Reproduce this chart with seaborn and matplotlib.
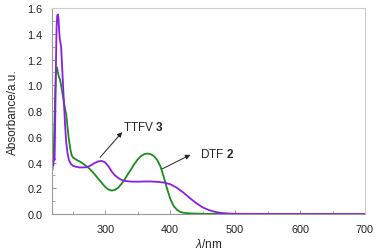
import pandas as pd
import seaborn as sns
import matplotlib.pyplot as plt
from matplotlib.ticker import MultipleLocator, FormatStrFormatter

# absorption spectra
wl_ttfv = [218, 219, 220, 221, 222, 223, 224, 225, 226, 227, 228, 229, 230, 231, 232,
           233, 234, 235, 236, 237, 238, 239, 240, 242, 244, 247, 250, 255, 260, 265,
           270, 275, 280, 285, 290, 295, 300, 305, 310, 315, 320, 325, 330, 340, 350,
           360, 370, 380, 390, 400, 410, 420, 430, 440, 450, 460, 470, 480, 490, 500,
           550, 600, 650, 700]
abs_ttfv = [0.36, 0.43, 0.38, 0.44, 0.42, 0.75, 1.15, 1.45, 1.54, 1.55, 1.52, 1.42, 1.36, 1.33, 1.30,
            1.20, 1.10, 1.00, 0.90, 0.80, 0.70, 0.62, 0.55, 0.47, 0.42, 0.39, 0.375, 0.367, 0.362, 0.362,
            0.363, 0.37, 0.385, 0.40, 0.41, 0.412, 0.40, 0.37, 0.33, 0.30, 0.28, 0.265, 0.257, 0.252, 0.251,
            0.253, 0.253, 0.25, 0.245, 0.232, 0.205, 0.168, 0.125, 0.085, 0.052, 0.03, 0.016, 0.008, 0.004, 0.002,
            0.001, 0.001, 0.0, 0.0]

wl_dtf = [218, 219, 220, 221, 222, 223, 224, 225, 226, 227, 228, 229, 230, 232, 234,
          236, 238, 240, 242, 244, 246, 248, 250, 253, 256, 260, 265, 270, 275, 280,
          285, 290, 295, 300, 305, 310, 315, 320, 325, 330, 335, 340, 345, 350, 355,
          360, 365, 370, 375, 380, 385, 390, 395, 400, 405, 410, 415, 420, 430, 450,
          500, 600, 700]
abs_dtf = [0.33, 0.36, 0.42, 0.55, 0.75, 0.95, 1.10, 1.14, 1.13, 1.10, 1.08, 1.06, 1.05, 1.00, 0.94,
           0.88, 0.82, 0.77, 0.67, 0.58, 0.51, 0.46, 0.44, 0.43, 0.42, 0.41, 0.395, 0.375, 0.355, 0.33,
           0.30, 0.27, 0.24, 0.21, 0.19, 0.182, 0.188, 0.205, 0.235, 0.27, 0.31, 0.35, 0.39, 0.425, 0.45,
           0.465, 0.47, 0.465, 0.45, 0.42, 0.37, 0.29, 0.20, 0.12, 0.065, 0.035, 0.018, 0.01, 0.005, 0.002,
           0.001, 0.0, 0.0]

df = pd.concat([
    pd.DataFrame({'wl': wl_dtf, 'A': abs_dtf, 'cmpd': 'DTF 2'}),
    pd.DataFrame({'wl': wl_ttfv, 'A': abs_ttfv, 'cmpd': 'TTFV 3'}),
])

sns.set_style("ticks")
plt.rcParams['font.family'] = ['Liberation Sans', 'DejaVu Sans']
plt.rcParams['mathtext.fontset'] = 'custom'
plt.rcParams['mathtext.rm'] = 'Liberation Sans'
plt.rcParams['mathtext.it'] = 'Liberation Sans:italic'
plt.rcParams['mathtext.bf'] = 'Liberation Sans:bold'

fig = plt.figure(figsize=(3.78, 2.53), dpi=100)
ax = fig.add_axes([0.1376, 0.150, 0.828, 0.8144])

sns.lineplot(data=df, x='wl', y='A', hue='cmpd', sort=False, estimator=None,
             palette={'DTF 2': '#1c8c1c', 'TTFV 3': '#8a1ee6'},
             linewidth=1.3, legend=False, ax=ax)

ax.set_xlim(218, 700)
ax.set_ylim(0, 1.6)
ax.xaxis.set_major_locator(MultipleLocator(100))
ax.xaxis.set_minor_locator(MultipleLocator(50))
ax.yaxis.set_major_locator(MultipleLocator(0.2))
ax.yaxis.set_minor_locator(MultipleLocator(0.1))
ax.yaxis.set_major_formatter(FormatStrFormatter('%.1f'))

ax.tick_params(which='both', direction='in', color='#999999', labelsize=7.8, labelcolor='#222222')
ax.tick_params(which='major', length=3, width=0.7)
ax.tick_params(which='minor', length=2, width=0.6)
ax.tick_params(axis='x', pad=7)
ax.tick_params(axis='y', pad=7)

for s in ['left', 'bottom']:
    ax.spines[s].set_color('#999999')
    ax.spines[s].set_linewidth(0.8)
for s in ['top', 'right']:
    ax.spines[s].set_color('#cccccc')
    ax.spines[s].set_linewidth(0.8)

ax.set_xlabel(r'$\lambda$/nm', fontsize=8.5, labelpad=2)
ax.set_ylabel('Absorbance/a.u.', fontsize=8.5, labelpad=6)

arrow_style = dict(arrowstyle='-|>', color='#222222', lw=0.7,
                   mutation_scale=7, shrinkA=0, shrinkB=0)
ax.annotate('', xy=(326, 0.636), xytext=(292, 0.44), arrowprops=arrow_style)
ax.text(327, 0.68, r'TTFV $\mathbf{3}$', fontsize=8.5, va='center', ha='left')
ax.annotate('', xy=(431, 0.46), xytext=(387.5, 0.35), arrowprops=arrow_style)
ax.text(446, 0.467, r'DTF $\mathbf{2}$', fontsize=8.5, va='center', ha='left')

plt.savefig('out.png', dpi=100)
